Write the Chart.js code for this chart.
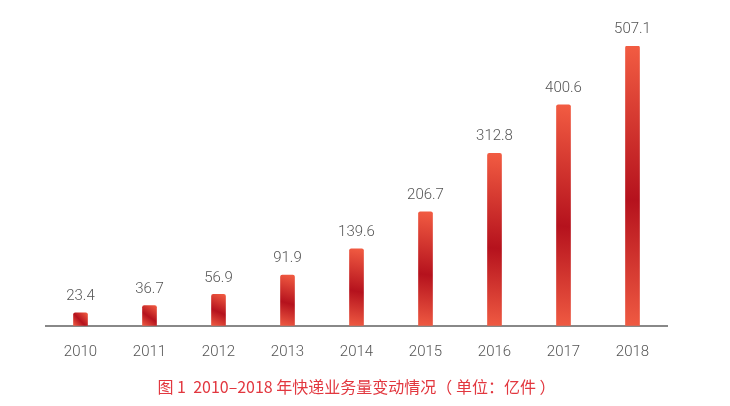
<!DOCTYPE html>
<html><head><meta charset="utf-8">
<script src="https://cdn.jsdelivr.net/npm/chart.js@4.4.1/dist/chart.umd.min.js"></script>
<style>html,body{margin:0;padding:0;background:#fff;}#wrap{width:730px;height:406px;}</style>
</head><body><div id="wrap"><canvas id="c" width="730" height="406"></canvas></div>
<script>
const years = ['2010','2011','2012','2013','2014','2015','2016','2017','2018'];
const volumes = [23.4, 36.7, 56.9, 91.9, 139.6, 206.7, 312.8, 400.6, 507.1];
const caption = '图 1  2010–2018 年快递业务量变动情况（ 单位：亿件 ）';

const FONT = 'Roboto, "Liberation Sans", Arial, sans-serif';

function barGradient(ctx) {
  const chart = ctx.chart;
  if (!chart.chartArea || ctx.type !== 'data') return '#c8202a';
  const xs = chart.scales.x, ys = chart.scales.y;
  const cx = xs.getPixelForValue(ctx.dataIndex);
  const top = ys.getPixelForValue(ctx.raw);
  const bot = ys.getPixelForValue(0);
  const g = chart.ctx.createLinearGradient(cx + 7, top, cx - 7, bot);
  g.addColorStop(0, '#f25c42');
  g.addColorStop(0.55, '#b5121d');
  g.addColorStop(1, '#ef5a42');
  return g;
}

const valueLabels = {
  id: 'valueLabels',
  afterDatasetsDraw(chart) {
    const c = chart.ctx;
    const meta = chart.getDatasetMeta(0);
    c.save();
    c.font = '300 15px ' + FONT;
    c.fillStyle = '#555';
    c.textAlign = 'center';
    c.textBaseline = 'bottom';
    meta.data.forEach((el, i) => {
      c.fillText(volumes[i].toFixed(1), el.x, el.y - 9);
    });
    c.restore();
  }
};

new Chart(document.getElementById('c'), {
  type: 'bar',
  data: {
    labels: years,
    datasets: [{
      data: volumes,
      backgroundColor: barGradient,
      barThickness: 14,
      borderRadius: {topLeft: 2, topRight: 2, bottomLeft: 0, bottomRight: 0},
      borderSkipped: 'bottom'
    }]
  },
  options: {
    responsive: false,
    animation: false,
    devicePixelRatio: 1,
    layout: { padding: { top: 46, left: 46, right: 63, bottom: 9 } },
    plugins: {
      legend: { display: false },
      tooltip: { enabled: false },
      title: {
        display: true,
        position: 'bottom',
        text: caption,
        color: '#e2373f',
        font: { size: 16, weight: 'normal', family: '"Noto Sans CJK SC", Roboto, sans-serif' },
        padding: { top: 0, bottom: 0 }
      }
    },
    scales: {
      x: {
        grid: { display: false, drawTicks: false },
        border: { display: true, color: '#888', width: 2 },
        ticks: { color: '#555', padding: 17, font: { size: 15, weight: 300, family: FONT } }
      },
      y: {
        display: false,
        min: 0,
        max: 507.1
      }
    }
  },
  plugins: [valueLabels]
});
</script>
</body></html>
